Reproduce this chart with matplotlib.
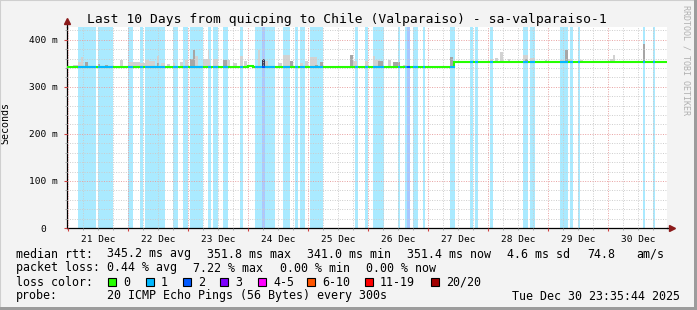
"""
SmokePing style chart: last 10 days quicping -> Chile (Valparaiso).
Writes out.png (697x310).
"""

import numpy as np
import matplotlib.pyplot as plt
import matplotlib.ticker as mticker
from matplotlib.patches import Rectangle

# ── Data ───────────────────────────────────────────────────────────────────────
# time axis in hours since 21 Dec 00:00, graph spans 20 Dec 23:35:44 .. 30 Dec 23:35:44
T_START = -0.404
T_END = 239.596
DAY_LABELS = ['21 Dec', '22 Dec', '23 Dec', '24 Dec', '25 Dec',
              '26 Dec', '27 Dec', '28 Dec', '29 Dec', '30 Dec']

# intervals with 1/20 loss (light blue background stripes)
loss1_start = [4.0, 11.9, 24.0, 28.8, 30.8, 42.0, 46.0, 48.8, 55.9, 58.1, 61.9,
               68.8, 74.8, 86.0, 90.8, 92.8, 96.8, 114.8, 118.8, 121.9, 131.9,
               134.8, 137.9, 141.9, 152.8, 160.8, 162.8, 168.8, 181.9, 184.8,
               196.8, 200.8, 203.9, 229.9, 233.9]
loss1_end = [11.2, 17.9, 25.9, 29.9, 38.8, 44.0, 47.9, 54.0, 57.0, 60.0, 64.0,
             70.0, 82.8, 88.8, 92.0, 94.8, 102.0, 116.0, 120.0, 126.5, 132.8,
             135.6, 139.9, 142.8, 154.8, 161.9, 163.9, 169.9, 184.1, 186.8,
             200.1, 201.9, 204.8, 230.8, 234.8]
# intervals with 2/20 loss
loss2_start = [77.5, 135.6]
loss2_end = [78.8, 136.8]

# median rtt (ms), step function
med_edges = [T_START, 42.0, 72.0, 74.0, 154.4, T_END]
med_vals = [341.0, 341.0, 344.0, 341.0, 352.0]

# smoke (ping spread above the median): start, end [h], top [ms], shade
smoke_start = [1.9, 4.0, 5.2, 6.8, 8.0, 11.9, 14.8, 20.8, 24.4, 28.8, 30.8, 32.4,
               35.5, 35.6, 37.2, 39.6, 42.0, 44.8, 46.8, 48.8, 49.9, 50.8, 54.0,
               55.9, 58.0, 62.0, 63.6, 66.0, 68.8, 70.4, 76.0, 77.6, 78.8, 84.0,
               86.0, 88.8, 92.8, 94.8, 96.8, 98.8, 100.8, 103.6, 107.6, 112.8,
               114.0, 118.8, 122.0, 122.8, 124.0, 128.0, 130.0, 134.0, 143.6,
               146.8, 152.8, 158.0, 168.8, 170.8, 172.8, 176.0, 182.0, 182.8,
               184.8, 190.8, 196.8, 198.8, 200.0, 204.8, 206.8, 216.8, 218.0,
               230.0]
smoke_end = [4.1, 6.0, 5.9, 7.9, 10.8, 12.8, 15.9, 21.9, 28.8, 30.8, 32.4, 34.8,
             36.5, 36.4, 38.8, 40.8, 42.8, 45.9, 47.9, 49.9, 50.8, 51.9, 56.8,
             56.5, 60.0, 63.6, 64.8, 67.6, 70.0, 71.6, 76.8, 78.8, 80.0, 85.6,
             88.8, 90.0, 94.0, 96.0, 99.6, 100.0, 102.0, 104.8, 108.8, 114.0,
             115.6, 120.0, 122.8, 124.8, 126.0, 129.2, 132.8, 136.0, 144.8,
             152.8, 154.0, 159.6, 170.0, 172.0, 174.0, 176.8, 184.0, 184.0,
             186.8, 191.6, 198.0, 200.0, 201.6, 206.0, 208.0, 218.8, 218.8,
             230.8]
smoke_top = [347, 352, 363, 352, 345, 349, 347, 356, 352, 350, 356, 354,
             366, 350, 350, 349, 350, 352, 357, 359, 379, 366, 359,
             379, 359, 356, 357, 350, 366, 355, 379, 360, 355, 350,
             367, 355, 350, 355, 363, 347, 352, 345, 345, 367,
             355, 355, 366, 357, 355, 356, 352, 347, 345,
             345, 363, 355, 360, 362, 373, 359, 367, 360,
             362, 356, 357, 379, 360, 356, 355, 360, 367,
             391]
smoke_shade = ['L', 'L', 'L', 'M', 'L', 'M', 'M', 'L', 'L', 'L', 'L', 'L',
               'L', 'M', 'L', 'L', 'L', 'L', 'L', 'M', 'M', 'L', 'L',
               'L', 'L', 'M', 'L', 'L', 'L', 'L', 'L', 'D', 'L', 'L',
               'L', 'M', 'L', 'L', 'L', 'M', 'M', 'L', 'L', 'M',
               'L', 'L', 'L', 'L', 'M', 'L', 'M', 'L', 'L',
               'L', 'M', 'L', 'L', 'L', 'L', 'L', 'L', 'M',
               'L', 'L', 'L', 'M', 'L', 'L', 'L', 'L', 'L',
               'M']

LOSS_LABELS = ['0', '1', '2', '3', '4-5', '6-10', '11-19', '20/20']
LOSS_COLORS = ['#26ff00', '#00b8ff', '#0059ff', '#7e00ff',
               '#ff00ff', '#ff5500', '#ff0000', '#a10000']
LOSS_BG = {1: '#aaeaff', 2: '#aac7ff'}
SHADES = {'L': '#d2d2d2', 'M': '#a6a6a6', 'D': '#3a3a5a'}

MONO = 'DejaVu Sans Mono'

# ── Figure ─────────────────────────────────────────────────────────────────────
fig = plt.figure(figsize=(6.97, 3.10), dpi=100, facecolor='#f3f3f3')

# 3d-ish frame around the canvas
fig.patches.append(Rectangle((0, 0), 1, 1, transform=fig.transFigure,
                             fill=False, edgecolor='#cfcfcf', lw=1.5))
fig.patches.append(Rectangle((0, 0), 697, 3, transform=None,
                             facecolor='#9c9c9c', edgecolor='none'))
fig.patches.append(Rectangle((694, 0), 3, 310, transform=None,
                             facecolor='#9c9c9c', edgecolor='none'))

ax = fig.add_axes([67 / 697, 1 - 228 / 310, 600 / 697, 201 / 310])
ax.set_facecolor('white')
ax.set_xlim(T_START, T_END)
ax.set_ylim(0, 427)

# loss background stripes
for s, e in zip(loss1_start, loss1_end):
    ax.axvspan(s, e, color=LOSS_BG[1], lw=0, zorder=0.5)
for s, e in zip(loss2_start, loss2_end):
    ax.axvspan(s, e, color=LOSS_BG[2], lw=0, zorder=0.6)


def median_at(t):
    i = np.searchsorted(med_edges, t, side='right') - 1
    i = min(max(i, 0), len(med_vals) - 1)
    return med_vals[i]


# smoke
for s, e, top, sh in zip(smoke_start, smoke_end, smoke_top, smoke_shade):
    base = median_at(s)
    ax.bar(s, top - base, width=e - s, bottom=base, align='edge',
           color=SHADES[sh], lw=0, zorder=1)

# median line, coloured by loss
ax.stairs(med_vals, med_edges, baseline=None, color=LOSS_COLORS[0], lw=1.5, zorder=3)
for s, e in zip(loss1_start, loss1_end):
    ax.hlines(median_at(s), s, e, color=LOSS_COLORS[1], lw=1.5, zorder=3.1)
for s, e in zip(loss2_start, loss2_end):
    ax.hlines(median_at(s), s, e, color=LOSS_COLORS[2], lw=1.5, zorder=3.2)

# grid
ax.set_axisbelow(False)
ax.xaxis.set_major_locator(mticker.MultipleLocator(24))
ax.xaxis.set_minor_locator(mticker.MultipleLocator(6))
ax.yaxis.set_major_locator(mticker.MultipleLocator(100))
ax.yaxis.set_minor_locator(mticker.MultipleLocator(20))
ax.grid(which='major', color='#e8a0a0', lw=0.7, linestyle=(0, (1, 1.5)))
ax.grid(which='minor', color='#cccccc', lw=0.7, linestyle=(0, (1, 1.5)))


def xlabel_fmt(x, _):
    d = int(round((x - 12) / 24))
    if abs(x - (12 + 24 * d)) < 0.01 and 0 <= d < len(DAY_LABELS):
        return DAY_LABELS[d]
    return ''


ax.xaxis.set_major_formatter(mticker.NullFormatter())
ax.xaxis.set_minor_formatter(mticker.FuncFormatter(xlabel_fmt))
ax.yaxis.set_major_formatter(mticker.FuncFormatter(
    lambda v, _: '0  ' if v == 0 else f'{int(v)} m'))

ax.tick_params(axis='x', which='major', direction='out', length=2.5,
               color='#d04040', width=0.8)
ax.tick_params(axis='x', which='minor', direction='out', length=1.5,
               color='#999999', pad=3.5, labelsize=6.8)
ax.tick_params(axis='y', which='major', direction='out', length=2,
               color='#d04040', pad=4.5, labelsize=6.8)
ax.tick_params(axis='y', which='minor', direction='out', length=1.5,
               color='#999999')
for lab in ax.get_xticklabels(minor=True) + ax.get_yticklabels():
    lab.set_fontfamily(MONO)

for side in ('top', 'right'):
    ax.spines[side].set_visible(False)
for side in ('left', 'bottom'):
    ax.spines[side].set_color('black')
    ax.spines[side].set_linewidth(0.9)

# axis arrows
ax.plot([0, 0], [1, 1.025], transform=ax.transAxes, color='black',
        lw=0.9, clip_on=False)
ax.plot([0], [1.03], marker='^', markersize=4.5, color='#8b1a1a',
        transform=ax.transAxes, clip_on=False)
ax.plot([1, 1.005], [0, 0], transform=ax.transAxes, color='black',
        lw=0.9, clip_on=False)
ax.plot([1.009], [0], marker='>', markersize=4.5, color='#8b1a1a',
        transform=ax.transAxes, clip_on=False)

ax.set_ylabel('Seconds', fontsize=7.2, family=MONO, labelpad=8)
ax.yaxis.set_label_coords(-0.095, 0.52)

# title and watermark
fig.text(347 / 697, 1 - 19 / 310,
         'Last 10 Days from quicping to Chile (Valparaiso) - sa-valparaiso-1',
         ha='center', va='center', fontsize=9.4, family=MONO)
fig.text(686 / 697, 1 - 5 / 310, 'RRDTOOL / TOBI OETIKER', rotation=270,
         ha='center', va='top', fontsize=6, family=MONO, color='#b0b0b0')

# ── Legend block ───────────────────────────────────────────────────────────────
LEG_FS = 8.4
rows_y = [254, 268, 282, 296]


def put(x, row, s, ha='left'):
    fig.text(x / 697, 1 - rows_y[row] / 310, s, ha=ha, va='center',
             fontsize=LEG_FS, family=MONO)


put(16, 0, 'median rtt:')
for x, s in zip([107, 207, 307, 407, 507, 587, 636],
                ['345.2 ms avg', '351.8 ms max', '341.0 ms min',
                 '351.4 ms now', '4.6 ms sd', '74.8', 'am/s']):
    put(x, 0, s)

put(16, 1, 'packet loss:')
for x, s in zip([107, 193, 280, 366],
                ['0.44 % avg', '7.22 % max', '0.00 % min', '0.00 % now']):
    put(x, 1, s)

put(16, 2, 'loss color:')
box_x = [108, 146, 183, 220, 258, 307, 365, 431]
for bx, lab, col in zip(box_x, LOSS_LABELS, LOSS_COLORS):
    fig.patches.append(Rectangle((bx, 310 - rows_y[2] - 4), 8, 8, transform=None,
                                 facecolor=col, edgecolor='black', lw=0.8))
    put(bx + 15, 2, lab)

put(16, 3, 'probe:')
put(107, 3, '20 ICMP Echo Pings (56 Bytes) every 300s')
put(680, 3, 'Tue Dec 30 23:35:44 2025', ha='right')

fig.savefig('out.png', dpi=100, facecolor=fig.get_facecolor())
